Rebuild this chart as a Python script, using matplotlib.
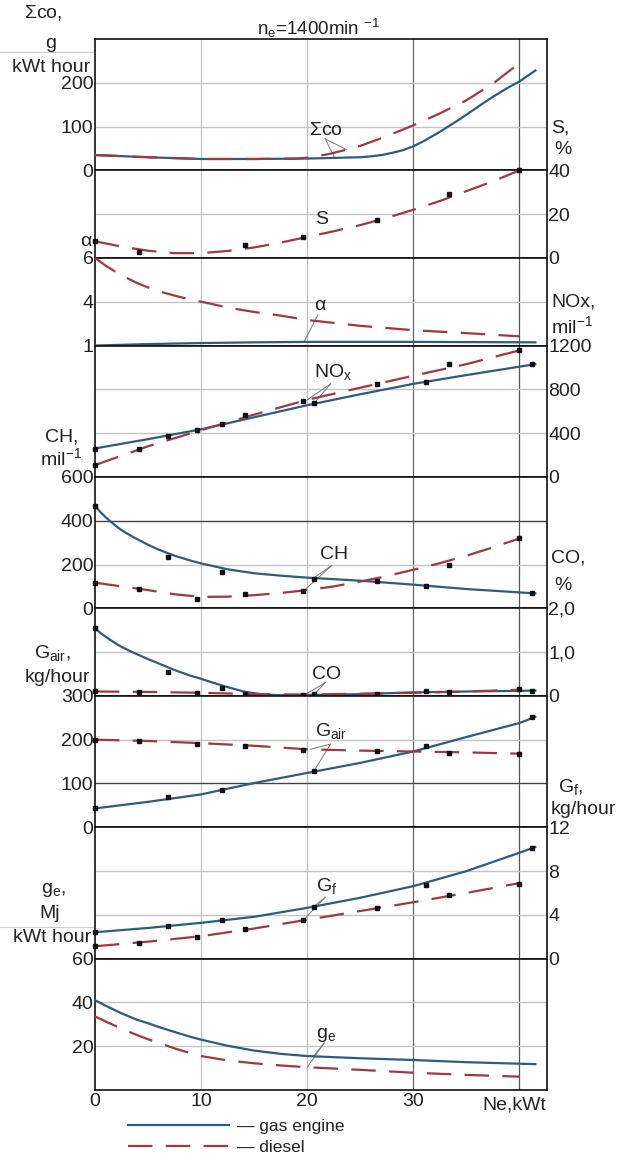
import numpy as np
import matplotlib.pyplot as plt
from matplotlib.lines import Line2D

plt.rcParams['font.family'] = ['Liberation Sans', 'DejaVu Sans']
plt.rcParams['font.size'] = 14
plt.rcParams['mathtext.fontset'] = 'custom'
plt.rcParams['mathtext.rm'] = 'Liberation Sans'
plt.rcParams['mathtext.it'] = 'Liberation Sans:italic'

GAS = '#2d5d7e'
DSL = '#a0393f'
TXT = '#222222'

# abscissas of the measured points (Ne, kWt)
gas_mx = [0, 6.9, 12, 20.6, 31.2, 41.2]
dsl_mx = [0, 4.1, 9.6, 14.1, 19.6, 26.6, 33.4, 40]

# sum CO, g/(kWt hour)
sco_gx = [0, 5, 10, 15, 20, 25, 26, 27, 28, 29, 30, 31, 32.5, 34, 35, 36.5, 37.5, 39, 40, 41.5]
sco_gy = [35, 30, 26, 26, 27, 30, 32, 35, 40, 46, 55, 67, 88, 111, 127, 152, 168, 190, 203, 228]
sco_dx = [0, 5, 10, 15, 19, 20, 21, 22, 23, 25, 27.5, 30, 32.5, 35, 37.5, 40]
sco_dy = [35, 30, 26, 26, 27, 29, 33, 37, 43, 56, 78, 103, 130, 160, 198, 245]

# smoke S, %
s_dx = [0, 2.5, 5, 7.5, 10, 12.5, 15, 17.5, 20, 22.5, 25, 27.5, 30, 32.5, 35, 37.5, 40]
s_dy = [7.6, 5.2, 3.3, 2.2, 2.2, 3.2, 4.8, 7, 9.6, 12.2, 15, 18.3, 22, 26, 30.5, 35, 40]
s_dm = [7.6, 2.9, None, 6.0, 9.4, 17.2, 29.3, 40]

# air excess ratio alpha
a_gx = [0, 5, 10, 15, 20, 30, 41.5]
a_gy = [1.0, 1.1, 1.17, 1.22, 1.25, 1.25, 1.22]
a_dx = [0, 1, 2.5, 4, 5, 6, 7.5, 9, 10, 11, 12.5, 15, 17.5, 20, 25, 30, 35, 40]
a_dy = [6.0, 5.65, 5.2, 4.85, 4.65, 4.48, 4.28, 4.1, 4.0, 3.85, 3.6, 3.3, 3.05, 2.75, 2.35, 2.05, 1.85, 1.63]

# NOx, mil^-1
nox_gx = [0, 5, 10, 15, 20, 25, 30, 35, 41.5]
nox_gy = [260, 345, 435, 545, 655, 755, 850, 930, 1030]
nox_dx = [0, 5, 10, 15, 20, 25, 30, 35, 40]
nox_dy = [108, 280, 427, 569, 704, 815, 924, 1030, 1156]
nox_gm = [259, 373, 479, 674, 864, 1027]
nox_dm = [108, 253, 424, 569, 698, 849, 1027, 1156]

# CH, mil^-1
ch_gx = [0, 0.5, 1, 1.5, 2, 2.5, 3.5, 5, 6, 7.5, 9, 10, 12.5, 15, 17.5, 20, 25, 30, 35, 41.5]
ch_gy = [468, 440, 416, 395, 375, 357, 328, 290, 268, 240, 218, 205, 178, 160, 149, 140, 126, 108, 88, 68]
ch_dx = [0, 2.5, 5, 7.5, 10, 12.5, 15, 17.5, 20, 22.5, 25, 27.5, 30, 32.5, 35, 37.5, 40]
ch_dy = [117, 100, 83, 64, 52, 53, 60, 70, 83, 100, 122, 147, 176, 206, 240, 278, 319]
ch_gm = [468, 234, 168, 134, 102, 68]
ch_dm = [117, 89, 43, 63, 80, 126, 199, 319]

# CO, %
co_gx = [0, 0.5, 1, 1.5, 2, 2.5, 3.5, 5, 6, 7.5, 9, 10, 11, 12.5, 14, 15, 16, 17.5, 20, 25, 30, 35, 41.5]
co_gy = [1.54, 1.44, 1.35, 1.27, 1.19, 1.12, 1.0, 0.84, 0.74, 0.59, 0.46, 0.39, 0.31, 0.2,
         0.1, 0.06, 0.03, 0.015, 0.02, 0.04, 0.08, 0.1, 0.12]
co_dx = [0, 5, 10, 15, 20, 25, 30, 35, 40]
co_dy = [0.1, 0.09, 0.07, 0.04, 0.03, 0.05, 0.07, 0.1, 0.14]
co_gm = [1.54, 0.55, 0.17, 0.04, 0.1, 0.12]
co_dm = [0.1, 0.09, 0.07, 0.04, 0.02, 0.05, 0.08, 0.15]

# air flow Gair, kg/hour
gair_gx = [0, 5, 10, 15, 20, 25, 30, 35, 40, 41.5]
gair_gy = [43, 58, 75, 101, 124, 147, 173, 206, 238, 252]
gair_dx = [0, 5, 10, 15, 20, 25, 30, 35, 40]
gair_dy = [200, 197, 192, 186, 178, 175, 173, 171, 168]
gair_gm = [43, 69, 85, 129, 185, 252]
gair_dm = [200, 196, 191, 186, 177, 173, 170, 168]

# fuel flow Gf, kg/hour
gf_gx = [0, 5, 10, 15, 20, 25, 30, 35, 40, 41.5]
gf_gy = [2.41, 2.8, 3.27, 3.82, 4.64, 5.56, 6.62, 7.99, 9.67, 10.2]
gf_dx = [0, 5, 10, 15, 20, 25, 30, 35, 40]
gf_dy = [1.13, 1.55, 2.05, 2.75, 3.55, 4.35, 5.15, 6.0, 6.9]
gf_gm = [2.41, 2.96, 3.5, 4.73, 6.77, 10.1]
gf_dm = [1.13, 1.44, 1.99, 2.72, 3.5, 4.58, 5.8, 6.84]

# specific consumption ge, Mj/(kWt hour)
ge_gx = [0, 1, 2.5, 4, 5, 6, 7.5, 9, 10, 12.5, 15, 17.5, 20, 22.5, 25, 30, 35, 41.5]
ge_gy = [41, 38.5, 35, 32, 30.5, 28.8, 26.5, 24.3, 23, 20.2, 18, 16.5, 15.5, 15, 14.5, 13.7, 12.7, 11.8]
ge_dx = [0, 1, 2.5, 4, 5, 6, 7.5, 9, 10, 12.5, 15, 17.5, 20, 25, 30, 35, 40]
ge_dy = [33.6, 31.3, 28, 25, 23.2, 21.5, 19, 16.8, 15.5, 13.5, 12.2, 11.2, 10.4, 9.2, 7.9, 6.9, 6.1]

x_ticks = [0, 10, 20, 30]

W, H = 619, 1160


def fx(x):
    return x / W


def fy(y):
    return 1 - y / H


bands = [
    dict(lim=(0, 300), ticks=[0, 100, 200], tl=['0', '100', '200'], side='left',
         gas=(sco_gx, sco_gy), dsl=(sco_dx, sco_dy),
         name=r'$\Sigma$co', pos=(21.8, 91), lead=(21.7, 72, 22.6, 23.7)),
    dict(lim=(0, 40), ticks=[0, 20, 40], tl=['0', '20', '40'], side='right',
         dsl=(s_dx, s_dy), dm=s_dm, name='S', pos=(21.4, 17.7)),
    dict(lim=(1, 6), ticks=[1, 4, 6], tl=['1', '4', '6'], side='left', alpha=True,
         gas=(a_gx, a_gy), dsl=(a_dx, a_dy),
         name='α', pos=(21.2, 3.75), lead=(21.0, 3.1, 19.7, None)),
    dict(lim=(0, 1200), ticks=[0, 400, 800, 1200], tl=['0', '400', '800', '1200'], side='right',
         gas=(nox_gx, nox_gy), dsl=(nox_dx, nox_dy), gm=nox_gm, dm=nox_dm,
         name=r'NO$_\mathrm{x}$', pos=(22.4, 960), lead=(22.2, 850, 20.6, 20.0)),
    dict(lim=(0, 600), ticks=[0, 200, 400, 600], tl=['0', '200', '400', '600'], side='left', dark=[400],
         gas=(ch_gx, ch_gy), dsl=(ch_dx, ch_dy), gm=ch_gm, dm=ch_dm,
         name='CH', pos=(22.5, 245), lead=(22.3, 195, 20.6, 19.7)),
    dict(lim=(0, 2), ticks=[0, 1, 2], tl=['0', '1,0', '2,0'], side='right',
         gas=(co_gx, co_gy), dsl=(co_dx, co_dy), gm=co_gm, dm=co_dm,
         name='CO', pos=(21.8, 0.48), lead=(21.7, 0.3, 20.6, 19.8)),
    dict(lim=(0, 300), ticks=[0, 100, 200, 300], tl=['0', '100', '200', '300'], side='left', dark=[100],
         gas=(gair_gx, gair_gy), dsl=(gair_dx, gair_dy), gm=gair_gm, dm=gair_dm,
         name=r'G$_\mathrm{air}$', pos=(22.3, 220), lead=(22.2, 190, 20.6, 20.3)),
    dict(lim=(0, 12), ticks=[0, 4, 8, 12], tl=['0', '4', '8', '12'], side='right',
         gas=(gf_gx, gf_gy), dsl=(gf_dx, gf_dy), gm=gf_gm, dm=gf_dm,
         name=r'G$_\mathrm{f}$', pos=(21.8, 6.6), lead=(21.7, 5.6, 20.6, 19.6)),
    dict(lim=(0, 60), ticks=[20, 40, 60], tl=['20', '40', '60'], side='left',
         gas=(ge_gx, ge_gy), dsl=(ge_dx, ge_dy),
         name=r'g$_\mathrm{e}$', pos=(21.8, 25.3), lead=(21.6, 21.5, 20.6, 20.0)),
]

fig = plt.figure(figsize=(W / 100, H / 100), dpi=100)
gs = fig.add_gridspec(9, 1, height_ratios=[3, 2, 2, 3, 3, 2, 3, 3, 3], hspace=0,
                      left=fx(95), right=fx(547), top=fy(39), bottom=fy(1090))

for i, b in enumerate(bands):
    ax = fig.add_subplot(gs[i])
    if b.get('alpha'):
        ax.set_yscale('function', functions=(lambda v: np.interp(v, [1, 4, 6], [0, 1, 2]),
                                             lambda u: np.interp(u, [0, 1, 2], [1, 4, 6])))
    ax.set_xlim(0, 42.6)
    ax.set_ylim(*b['lim'])
    ax.set_yticks(b['ticks'])
    ax.set_yticklabels(b['tl'])
    if b['side'] == 'right':
        ax.yaxis.tick_right()
    ax.tick_params(axis='y', length=0, pad=1, labelsize=14, colors=TXT)
    ax.set_xticks(x_ticks)
    if i == len(bands) - 1:
        ax.tick_params(axis='x', length=0, pad=2, labelsize=14, colors=TXT)
    else:
        ax.tick_params(axis='x', length=0, labelbottom=False)
    for sp in ax.spines.values():
        sp.set_color('#111111')
        sp.set_linewidth(1.2)

    # grid
    for xv, c in zip([10, 20, 30, 40], ['#c4c4c4', '#bdbdbd', '#666666', '#555555']):
        ax.axvline(xv, color=c, lw=0.9, zorder=1)
    for t in b['ticks']:
        if b['lim'][0] < t < b['lim'][1]:
            c = '#444444' if t in b.get('dark', []) else '#c4c4c4'
            ax.axhline(t, color=c, lw=1.0, zorder=1)

    # curves
    if 'gas' in b:
        ax.plot(*b['gas'], color=GAS, lw=1.6, clip_on=False, zorder=3)
    if 'dsl' in b:
        ax.plot(*b['dsl'], color=DSL, lw=1.6, dashes=(11, 6), clip_on=False, zorder=3)
    if 'gm' in b:
        ax.plot(gas_mx, b['gm'], 's', ms=3, color='#111111', clip_on=False, zorder=4)
    if 'dm' in b:
        pts = [(x, y) for x, y in zip(dsl_mx, b['dm']) if y is not None]
        ax.plot([p[0] for p in pts], [p[1] for p in pts], 's', ms=3,
                color='#111111', clip_on=False, zorder=4)

    # curve name with leader lines
    ax.text(*b['pos'], b['name'], ha='center', va='center', fontsize=14, color=TXT, zorder=5)
    if 'lead' in b:
        lx, ly, tg, td = b['lead']
        if tg is not None:
            ax.plot([lx, tg], [ly, np.interp(tg, *b['gas'])], color='#777777', lw=0.7, zorder=2)
        if td is not None:
            ax.plot([lx, td], [ly, np.interp(td, *b['dsl'])], color='#777777', lw=0.7, zorder=2)

# axis names
left_names = [
    (r'$\Sigma$co,', 43, 13), ('g', 51, 43), ('kWt hour', 51, 67),
    ('α', 86, 242),
    ('CH,', 62, 437), (r'mil$^{-1}$', 61, 458),
    (r'G$_\mathrm{air}$,', 52, 653), ('kg/hour', 57, 677),
    (r'g$_\mathrm{e}$,', 53, 890), ('Mj', 50, 913), ('kWt hour', 52, 938),
]
for t, x, y in left_names:
    fig.text(fx(x), fy(y), t, ha='center', va='center', fontsize=14, color=TXT)

right_names = [
    ('S,', 551, 128), ('%', 554, 150),
    ('NOx,', 551, 302), (r'mil$^{-1}$', 551, 326),
    ('CO,', 551, 558), ('%', 554, 585),
    (r'G$_\mathrm{f}$,', 558, 787), ('kg/hour', 551, 810),
]
for t, x, y in right_names:
    fig.text(fx(x), fy(y), t, ha='left', va='center', fontsize=14, color=TXT)

for y in [52, 927]:
    fig.add_artist(Line2D([0, fx(93)], [fy(y), fy(y)], transform=fig.transFigure,
                          color='#cccccc', lw=0.8))

fig.text(fx(319), fy(28), r'n$_\mathrm{e}$=1400min $^{-1}$', ha='center', va='center',
         fontsize=13.5, color=TXT)
fig.text(fx(514), fy(1105), 'Ne,kWt', ha='center', va='center', fontsize=14, color=TXT)

handles = [Line2D([], [], color=GAS, lw=1.6),
           Line2D([], [], color=DSL, lw=1.6, dashes=(11, 6))]
fig.legend(handles, ['— gas engine', '— diesel'], loc='upper left',
           bbox_to_anchor=(fx(128), fy(1119)), frameon=False, fontsize=12.5,
           handlelength=5.8, handletextpad=0.5, labelspacing=0.35,
           borderaxespad=0, borderpad=0, labelcolor=TXT)

fig.savefig('out.png', dpi=100)
